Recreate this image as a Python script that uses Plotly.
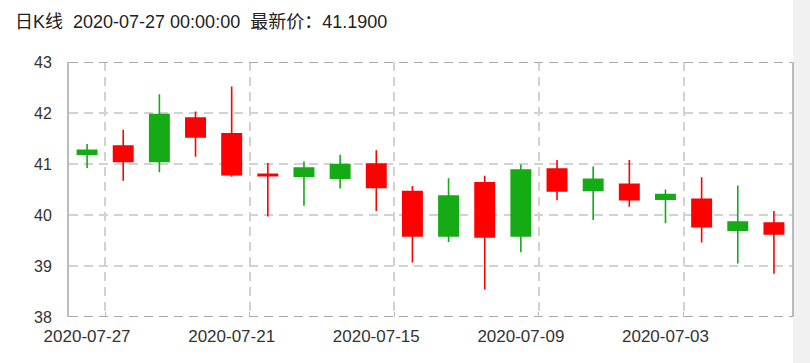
import plotly.graph_objects as go

dates = ["2020-07-27", "2020-07-24", "2020-07-23", "2020-07-22", "2020-07-21",
         "2020-07-20", "2020-07-17", "2020-07-16", "2020-07-15", "2020-07-14",
         "2020-07-13", "2020-07-10", "2020-07-09", "2020-07-08", "2020-07-07",
         "2020-07-06", "2020-07-03", "2020-07-02", "2020-07-01", "2020-06-30"]
opens = [41.27, 41.05, 41.97, 41.53, 40.79, 40.77, 40.92, 40.99, 40.54, 39.59,
         40.37, 39.57, 40.88, 40.47, 40.70, 40.30, 40.40, 39.77, 39.86, 39.63]
closes = [41.19, 41.35, 41.05, 41.90, 41.59, 40.80, 40.76, 40.72, 41.00, 40.46,
          39.59, 40.63, 39.59, 40.90, 40.48, 40.60, 40.31, 40.31, 39.70, 39.84]
highs = [41.39, 41.67, 42.37, 42.03, 42.52, 41.02, 41.05, 41.18, 41.27, 40.57,
         40.72, 40.77, 40.99, 41.08, 40.95, 41.08, 40.50, 40.74, 40.58, 40.08]
lows = [40.92, 40.67, 40.84, 41.14, 40.75, 39.97, 40.18, 40.52, 40.08, 39.07,
        39.47, 38.54, 39.27, 40.29, 39.90, 40.16, 39.84, 39.46, 39.05, 38.85]
label_every = 4
title_text = "日K线  2020-07-27 00:00:00  最新价：41.1900"

idx = list(range(len(dates)))
tick_idx = idx[::label_every]
grid_idx = [i + 0.5 for i in tick_idx]

RED = "#ff0000"
GREEN = "#14ab14"
FONT = "Liberation Sans, Arial, sans-serif"
GRID = "#d2d2d2"

fig = go.Figure(go.Candlestick(
    x=idx, open=opens, high=highs, low=lows, close=closes,
    increasing=dict(line=dict(color=RED, width=1.6), fillcolor=RED),
    decreasing=dict(line=dict(color=GREEN, width=1.6), fillcolor=GREEN),
    hoverinfo="skip", showlegend=False,
))

fig.update_layout(
    width=810, height=363,
    margin=dict(l=69, r=18, t=62, b=46),
    paper_bgcolor="white", plot_bgcolor="white",
    boxgap=0.465, boxgroupgap=0,
    font=dict(family=FONT, color="#333333"),
    title=dict(text=title_text, x=15/810, xanchor="left", y=1-22/363, yanchor="middle",
               font=dict(size=18, color="#222222", family="Liberation Sans, Noto Sans CJK SC, sans-serif")),
    xaxis=dict(
        range=[-0.5, len(dates) - 0.5],
        tickmode="array", tickvals=tick_idx, ticktext=[dates[i] for i in tick_idx],
        showgrid=False, zeroline=False, showline=False, ticks="",
        tickfont=dict(size=17, color="#333333"),
        ticklabelstandoff=7,
        rangeslider=dict(visible=False),
        minor=dict(tickmode="array", tickvals=grid_idx, showgrid=True,
                   gridcolor=GRID, griddash="9px,6px", gridwidth=1.5,
                   ticks="inside", ticklen=5, tickcolor="#bbbbbb"),
    ),
    yaxis=dict(
        range=[38, 43], dtick=1, tick0=38,
        showgrid=True, gridcolor=GRID, griddash="9px,6px", gridwidth=1.5,
        zeroline=False, showline=True, mirror=True, linecolor="#bbbbbb", linewidth=2,
        ticks="", tickfont=dict(size=16, color="#333333"),
        ticklabelstandoff=12,
    ),
    shapes=[
        dict(type="line", xref="paper", yref="y", x0=0, x1=1, y0=43, y1=43,
             line=dict(color="#aaaaaa", width=2, dash="9px,6px"), layer="above"),
        dict(type="line", xref="paper", yref="y", x0=0, x1=1, y0=38, y1=38,
             line=dict(color="#aaaaaa", width=2, dash="9px,6px"), layer="above"),
        dict(type="rect", xref="paper", yref="paper", x0=1 + 1/723, x1=1 + 18/723,
             y0=-46/255, y1=1 + 62/255, fillcolor="#f1f1f1", line=dict(width=0),
             layer="below"),
    ],
)

fig.write_html("out.html")
